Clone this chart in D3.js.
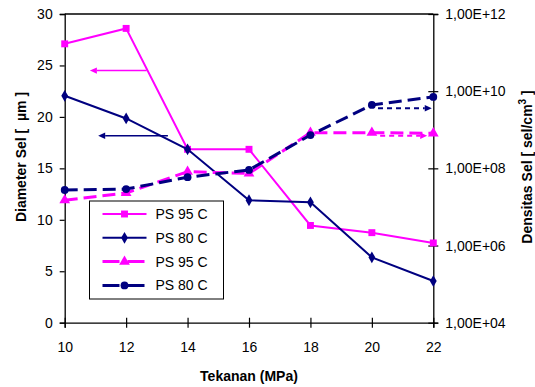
<!DOCTYPE html>
<html>
<head>
<meta charset="utf-8">
<script src="https://cdn.jsdelivr.net/npm/d3@7"></script>
<style>
  html, body { margin: 0; padding: 0; background: #fff; }
  svg { display: block; font-family: "Liberation Sans", Arial, sans-serif; }
</style>
</head>
<body>
<svg id="chart" width="535" height="387"></svg>
<script>
// Pressure (MPa)
const pressure = [10, 12, 14, 16, 18, 20, 22];
// Cell diameter (µm), left axis
const diam95 = [27.1, 28.6, 16.85, 16.85, 9.45, 8.75, 7.75];
const diam80 = [22.05, 19.85, 16.85, 11.9, 11.7, 6.35, 4.05];
// Cell density (cells/cm³), right axis
const dens95 = [1.5e7, 2.3e7, 8.2e7, 7.4e7, 8.4e8, 8.4e8, 8.1e8];
const dens80 = [2.75e7, 2.9e7, 5.9e7, 9.1e7, 7.3e8, 4.4e9, 7.1e9];
// Axis ticks
const xTicks = [10, 12, 14, 16, 18, 20, 22];
const leftTicks = [0, 5, 10, 15, 20, 25, 30];
const rightTicks = [1e4, 1e6, 1e8, 1e10, 1e12];
const legendLabels = ["PS 95 C", "PS 80 C", "PS 95 C", "PS 80 C"];

const MAGENTA = "#ff00ff", NAVY = "#000080";
const svg = d3.select("#chart");
const m = { left: 64.7, right: 433.3, top: 14, bottom: 322.7 };

const x = d3.scaleLinear().domain([10, 22]).range([m.left, m.right]);
const yL = d3.scaleLinear().domain([0, 30]).range([m.bottom, m.top]);
const yR = d3.scaleLog().domain([1e4, 1e12]).range([m.bottom, m.top]);

// Frame top line
svg.append("line").attr("x1", m.left).attr("x2", m.right)
  .attr("y1", m.top).attr("y2", m.top).attr("stroke", "#000").attr("stroke-width", 1.3);

function styleAxis(g) {
  g.select(".domain").attr("stroke", "#000").attr("stroke-width", 1.3);
  g.selectAll(".tick line").attr("stroke", "#000").attr("stroke-width", 1.2);
  g.selectAll(".tick text").attr("font-size", 14).attr("fill", "#000")
    .attr("font-family", "Liberation Sans, Arial, sans-serif");
}

// X axis, ticks crossing the axis line
const gx = svg.append("g").attr("transform", `translate(0,${m.bottom})`)
  .call(d3.axisBottom(x).tickValues(xTicks).tickSizeOuter(0).tickSize(5).tickPadding(14));
styleAxis(gx);
gx.selectAll(".tick line").attr("y1", -5).attr("y2", 5);

// Left axis
const gl = svg.append("g").attr("transform", `translate(${m.left},0)`)
  .call(d3.axisLeft(yL).tickValues(leftTicks).tickSizeOuter(0).tickSize(5).tickPadding(7));
styleAxis(gl);

// Right axis (log)
const fmtE = d => "1,00E+" + String(Math.round(Math.log10(d))).padStart(2, "0");
const gr = svg.append("g").attr("transform", `translate(${m.right},0)`)
  .call(d3.axisRight(yR).tickValues(rightTicks).tickFormat(fmtE).tickSizeOuter(0).tickSize(5).tickPadding(7));
styleAxis(gr);
gr.selectAll(".tick line").attr("x1", -5).attr("x2", 5);

// Axis titles
svg.append("text").attr("x", (m.left + m.right) / 2).attr("y", 381)
  .attr("text-anchor", "middle").attr("font-size", 14).attr("font-weight", "bold")
  .text("Tekanan (MPa)");
svg.append("text").attr("transform", "translate(26,157) rotate(-90)")
  .attr("text-anchor", "middle").attr("font-size", 14).attr("font-weight", "bold")
  .text("Diameter Sel [ \u00a0µm ]");
const rt = svg.append("text").attr("transform", "translate(532,167) rotate(-90)")
  .attr("text-anchor", "middle").attr("font-size", 14).attr("font-weight", "bold");
rt.append("tspan").text("Densitas Sel [ sel/cm");
rt.append("tspan").attr("dy", -6).attr("font-size", 10).text("3");
rt.append("tspan").attr("dy", 6).text(" ]");

// Annotation arrows pointing to the axis each series belongs to
function arrow(x1, x2, yv, color, dash, width) {
  const dir = Math.sign(x2 - x1);
  const hl = 7, hw = 3.2;
  svg.append("line").attr("x1", x1).attr("x2", x2 - dir * hl).attr("y1", yv).attr("y2", yv)
    .attr("stroke", color).attr("stroke-width", width).attr("stroke-dasharray", dash || null);
  svg.append("path")
    .attr("d", `M${x2},${yv} L${x2 - dir * hl},${yv - hw} L${x2 - dir * hl},${yv + hw} Z`)
    .attr("fill", color);
}
arrow(x(12.67), x(10.82), yL(24.5), MAGENTA, null, 1.5);
arrow(x(13.36), x(11.09), yL(18.17), NAVY, null, 1.3);
arrow(x(20.2), x(21.95), yR(3.6e9), NAVY, "5,4", 2);
arrow(x(20.27), x(21.8), yR(7.0e8), MAGENTA, "5,4", 2);

// Markers
const sym = {
  square: d3.symbol().type(d3.symbolSquare).size(48),
  diamond: d3.symbol().type(d3.symbolDiamond).size(40),
  triangle: d3.symbol().type(d3.symbolTriangle).size(50),
  circle: d3.symbol().type(d3.symbolCircle).size(48)
};

const series = [
  { vals: diam95, y: yL, color: MAGENTA, dash: null, width: 2, marker: "square" },
  { vals: diam80, y: yL, color: NAVY, dash: null, width: 2, marker: "diamond" },
  { vals: dens95, y: yR, color: MAGENTA, dash: "13,6", width: 3, marker: "triangle" },
  { vals: dens80, y: yR, color: NAVY, dash: "13,6", width: 3, marker: "circle" }
];

series.forEach(s => {
  const line = d3.line().x((d, i) => x(pressure[i])).y(d => s.y(d));
  svg.append("path").datum(s.vals).attr("d", line).attr("fill", "none")
    .attr("stroke", s.color).attr("stroke-width", s.width)
    .attr("stroke-dasharray", s.dash);
  svg.append("g").selectAll("path").data(s.vals).join("path")
    .attr("d", sym[s.marker])
    .attr("transform", (d, i) => `translate(${x(pressure[i])},${s.y(d)})`)
    .attr("fill", s.color);
});

// Legend
const lg = svg.append("g").attr("transform", "translate(89.5,201)");
lg.append("rect").attr("width", 134).attr("height", 98)
  .attr("fill", "#fff").attr("stroke", "#000").attr("stroke-width", 1);
series.forEach((s, i) => {
  const yy = 13 + i * 23.8;
  lg.append("line").attr("x1", 13).attr("x2", 57).attr("y1", yy).attr("y2", yy)
    .attr("stroke", s.color).attr("stroke-width", s.width)
    .attr("stroke-dasharray", s.dash ? "17,8" : null);
  lg.append("path").attr("d", sym[s.marker]).attr("transform", `translate(35,${yy})`)
    .attr("fill", s.color);
  lg.append("text").attr("x", 66).attr("y", yy + 5).attr("font-size", 14)
    .text(legendLabels[i]);
});
</script>
</body>
</html>
